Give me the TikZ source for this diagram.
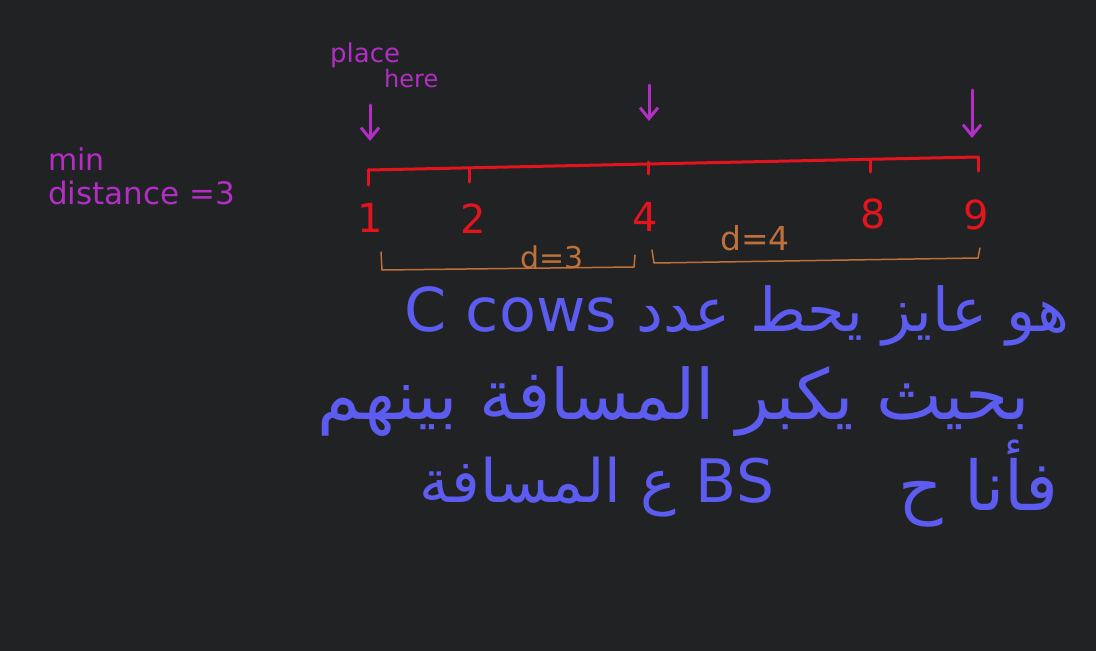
\documentclass[tikz,border=0pt]{standalone}
\usepackage{fontspec}
\setmainfont{DejaVu Sans}
\newfontfamily\arabicfont[Script=Arabic]{DejaVu Sans}
\TeXXeTstate=1
\usetikzlibrary{arrows.meta}
\definecolor{bg}{HTML}{212224}
\definecolor{redink}{HTML}{E3141E}
\definecolor{purpink}{HTML}{B22EC4}
\definecolor{brownink}{HTML}{C0703A}
\definecolor{blueink}{HTML}{5C5CF0}
\tikzset{
  redline/.style={draw=redink, line width=3pt, line cap=round, line join=round},
  numlabel/.style={text=redink, font=\fontsize{40}{42}\selectfont, inner sep=0pt},
  bracket/.style={draw=brownink, line width=1.5pt, line cap=round, line join=round},
  dlabel/.style={text=brownink, inner sep=0pt},
  pointer/.style={draw=purpink, line width=3pt, line cap=round, -{Straight Barb[length=11pt,width=18pt,line width=3pt]}},
  note/.style={text=purpink, inner sep=0pt},
  arline/.style={text=blueink, inner sep=0pt}
}
\begin{document}
\begin{tikzpicture}[x=1pt,y=-1pt]
\fill[bg] (0,0) rectangle (1096,651);
\useasboundingbox (0,0) rectangle (1096,651);

% number line
\coordinate (t1) at (368,170);
\coordinate (t2) at (469,168);
\coordinate (t4) at (648,164);
\coordinate (t8) at (870,159);
\coordinate (t9) at (978,157);
\draw[redline] (t1) -- (t4) -- (t9);
\draw[redline] (t1) -- ++(0,15);
\draw[redline] (t2) -- ++(0,14);
\draw[redline] ([yshift=2pt]t4) -- ++(0,12);
\draw[redline] (t8) -- ++(0,13);
\draw[redline] (t9) -- ++(0,14);

% numbers
\node[numlabel] (n1) at (370,218) {1};
\node[numlabel] (n2) at (473,219) {2};
\node[numlabel] (n4) at (645,217) {4};
\node[numlabel] (n8) at (873,214) {8};
\node[numlabel] (n9) at (976,215) {9};

% brackets
\coordinate (b1a) at (381,252);
\coordinate (b1b) at (382,270);
\coordinate (b1c) at (634,267);
\coordinate (b1d) at (635,255);
\draw[bracket] (b1a) -- (b1b) -- (b1c) -- (b1d);
\coordinate (b2a) at (652,250);
\coordinate (b2b) at (654,263);
\coordinate (b2c) at (978,258);
\coordinate (b2d) at (980,248);
\draw[bracket] (b2a) -- (b2b) -- (b2c) -- (b2d);
\node[dlabel, font=\fontsize{30}{32}\selectfont] (d3) at (552,257) {d=3};
\node[dlabel, font=\fontsize{33}{35}\selectfont] (d4) at (755,238) {d=4};

% pointers
\coordinate (p1s) at (370,105);
\coordinate (p1e) at (370,141);
\coordinate (p4s) at (649,85);
\coordinate (p4e) at (649,121);
\coordinate (p9s) at (972,90);
\coordinate (p9e) at (972,138);
\draw[pointer] (p1s) -- (p1e);
\draw[pointer] (p4s) -- (p4e);
\draw[pointer] (p9s) -- (p9e);

% notes
\node[note, font=\fontsize{26}{28}\selectfont, anchor=west] (place) at (330,55) {place};
\node[note, font=\fontsize{24}{26}\selectfont, anchor=west] (here) at (384,79) {here};
\node[note, font=\fontsize{30}{32}\selectfont, anchor=west] (min) at (48,159) {min};
\node[note, font=\fontsize{31}{33}\selectfont, anchor=west] (dist) at (48,193) {distance =3};

% Arabic text
\node[arline] (l1) at (737,316) {\resizebox{665pt}{!}{\fontsize{40}{48}\arabicfont\beginR هو عايز يحط عدد \beginL C cows\endL\endR}};
\node[arline] (l2) at (674,402) {\resizebox{712pt}{!}{\fontsize{40}{48}\arabicfont\beginR بحيث يكبر المسافة بينهم\endR}};
\node[arline] (l3a) at (978,484) {\resizebox{160pt}{!}{\fontsize{40}{48}\arabicfont\beginR فأنا ح\endR}};
\node[arline] (l3b) at (597,487) {\resizebox{355pt}{!}{\fontsize{40}{48}\arabicfont\beginR \beginL BS\endL{} ع المسافة\endR}};
\end{tikzpicture}
\end{document}
